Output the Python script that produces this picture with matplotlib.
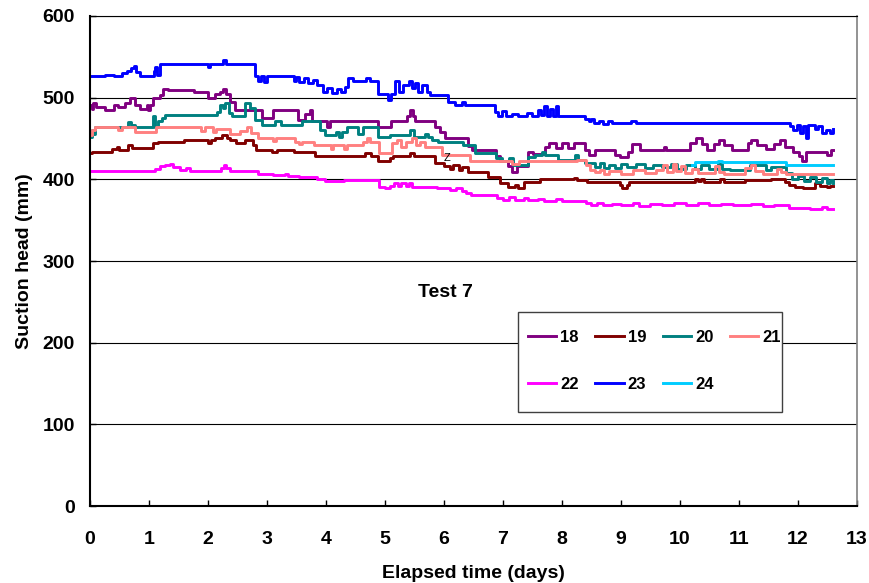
import matplotlib
matplotlib.use("Agg")
import matplotlib.pyplot as plt
from matplotlib.patches import Rectangle

plt.rcParams['font.family'] = ['Liberation Sans', 'DejaVu Sans']

# sensor 18
t18 = [0, 0.03, 0.06, 0.1, 0.25, 0.4, 0.48, 0.59, 0.68, 0.76, 0.85, 0.96, 0.99, 1.02, 1.07, 1.18, 1.24, 1.33, 1.76, 2.0, 2.12,
       2.2, 2.26, 2.31, 2.37, 2.46, 2.91, 3.11, 3.53, 3.64, 3.73, 3.76, 4.01, 4.07,
       4.89, 5.1, 5.38, 5.43, 5.48, 5.51, 5.85, 5.94, 6.02, 6.4, 6.48,
       6.89, 6.95, 7.09, 7.15, 7.23, 7.43, 7.51, 7.72, 7.78, 7.9, 8.0, 8.1, 8.2, 8.39, 8.45, 8.56,
       8.9, 8.98, 9.12, 9.18, 9.32, 9.73, 9.77, 10.17, 10.28, 10.38, 10.45, 10.58, 10.66, 10.75, 10.88,
       11.15, 11.2, 11.3, 11.45, 11.6, 11.7, 11.78, 11.92, 12.02, 12.07, 12.14, 12.5, 12.56, 12.6]
v18 = [491, 486, 493, 489, 485, 491, 489, 493, 499, 491, 486, 491, 485, 491, 499, 503, 511, 509, 507, 499, 505,
       507, 511, 505, 495, 485, 475, 485, 473, 480, 485, 471, 464, 471,
       464, 471, 478, 485, 478, 471, 464, 458, 450, 441, 436,
       428, 422, 416, 409, 416, 433, 431, 440, 444, 438, 444, 438, 444, 436, 430, 436,
       430, 427, 433, 443, 436, 440, 436, 444, 450, 443, 436, 443, 448, 442, 436,
       444, 448, 442, 437, 443, 448, 440, 434, 428, 422, 434, 430, 436, 436]

# sensor 19
t19 = [0, 0.03, 0.37, 0.45, 0.5, 0.65, 0.71, 1.07, 1.15, 1.6, 2.0, 2.05,
       2.12, 2.23, 2.32, 2.38, 2.48, 2.62, 2.76, 2.82, 3.08, 3.17, 3.45, 3.81,
       4.66, 4.76, 4.89, 5.08, 5.14, 5.42, 5.49, 5.85, 6.0, 6.1, 6.15, 6.25, 6.3, 6.4,
       6.75, 6.95, 7.09, 7.2, 7.25, 7.35, 7.63, 8.2, 8.26, 8.42,
       8.98, 9.02, 9.1, 9.14, 10.25, 10.3, 10.35, 10.4, 10.68, 10.74,
       11.1, 11.55, 11.78, 11.85, 11.95, 12.09, 12.29, 12.37, 12.5, 12.55, 12.6]
v19 = [432, 434, 437, 439, 436, 442, 438, 444, 446, 448, 445, 448,
       450, 454, 450, 448, 444, 448, 442, 436, 434, 436, 434, 428,
       432, 428, 422, 426, 428, 432, 428, 420, 416, 413, 417, 412, 415, 409,
       403, 395, 390, 393, 389, 397, 400, 402, 399, 397,
       393, 389, 393, 397, 401, 398, 401, 397, 401, 397,
       399, 401, 397, 393, 391, 389, 395, 392, 390, 392, 392]

# sensor 20
t20 = [0, 0.03, 0.06, 0.09, 0.65, 0.7, 0.76, 1.07, 1.11, 1.16, 1.22, 1.27, 2.15,
       2.2, 2.25, 2.29, 2.35, 2.4, 2.63, 2.72, 2.8, 2.91, 3.14, 3.24, 3.6, 3.9, 3.98, 4.17, 4.22, 4.28, 4.35,
       4.55, 4.62, 4.88, 5.08, 5.42, 5.5, 5.68, 5.73, 5.79, 5.9, 6.32, 6.52,
       6.89, 6.98, 7.1, 7.17, 7.43, 7.55, 7.66, 7.72, 7.94, 8.22, 8.28, 8.39, 8.56, 8.65, 8.72,
       8.8, 8.9, 9.0, 9.1, 9.25, 9.4, 9.55, 9.7, 9.85, 9.95, 10.1, 10.25, 10.35, 10.5, 10.65, 10.72,
       10.85, 11.18, 11.45, 11.55, 11.8, 11.9, 12.0, 12.1, 12.2, 12.3, 12.4, 12.5, 12.55, 12.6]
v20 = [452, 460, 455, 464, 470, 466, 464, 477, 464, 471, 475, 479, 482,
       491, 487, 493, 481, 477, 493, 487, 473, 467, 471, 467, 471, 460, 454, 458, 452, 458, 464,
       456, 464, 452, 454, 460, 452, 456, 452, 448, 446, 442, 432,
       426, 422, 426, 418, 427, 430, 434, 430, 424, 430, 424, 420, 415, 420, 414,
       418, 414, 419, 415, 419, 414, 418, 415, 419, 413, 418, 413, 417, 413, 419, 413,
       411, 418, 411, 415, 408, 401, 404, 398, 403, 397, 402, 396, 399, 396]

# sensor 21
t21 = [0, 0.03, 0.09, 0.48, 0.55, 0.76, 1.12, 1.88, 1.95, 2.08, 2.13,
       2.38, 2.55, 2.66, 2.73, 2.84, 3.1, 3.15, 3.47, 3.55, 3.6, 3.8, 4.08, 4.12, 4.3, 4.35,
       4.63, 4.7, 4.75, 4.9, 5.12, 5.2, 5.28, 5.35, 5.45, 5.52, 5.6, 5.68, 5.76, 5.96, 6.44,
       7.15, 7.28, 8.25, 8.4, 8.47, 8.56, 8.65, 8.72,
       8.8, 9.0, 9.2, 9.4, 9.6, 9.72, 9.78, 9.88, 9.94, 10.02, 10.08, 10.2, 10.3, 10.6, 10.66, 10.75,
       11.1, 11.2, 11.28, 11.4, 11.65, 11.72, 11.8, 12.6]
v21 = [454, 460, 464, 460, 464, 458, 464, 459, 464, 458, 462,
       456, 459, 464, 457, 450, 447, 450, 446, 443, 446, 442, 437, 442, 437, 442,
       446, 450, 446, 432, 444, 448, 440, 446, 450, 442, 446, 439, 440, 430, 422,
       419, 422, 424, 418, 412, 409, 412, 407,
       410, 407, 411, 408, 411, 417, 409, 419, 410, 416, 408, 413, 408, 416, 409, 407,
       414, 418, 410, 407, 413, 409, 407, 407]

# sensor 22
t22 = [0, 1.1, 1.18, 1.27, 1.35, 1.4, 1.52, 1.62, 1.7, 2.22, 2.27, 2.3, 2.37, 2.85, 3.1, 3.3, 3.35, 3.55, 3.85, 3.98,
       4.3, 4.9, 5.0, 5.08, 5.15, 5.22, 5.28, 5.35, 5.4, 5.45, 5.88, 6.1, 6.2, 6.3, 6.38, 6.45,
       6.9, 7.0, 7.1, 7.2, 7.35, 7.42, 7.6, 7.7, 7.9, 8.0, 8.4, 8.5,
       8.6, 8.7, 8.85, 9.0, 9.2, 9.3, 9.5, 9.7, 9.9, 10.1, 10.3, 10.5, 10.7,
       10.9, 11.2, 11.4, 11.6, 11.85, 12.2, 12.4, 12.5, 12.6]
v22 = [410, 413, 416, 418, 419, 415, 412, 414, 410, 414, 418, 414, 410, 407, 405, 407, 404, 403, 401, 398,
       399, 391, 389, 392, 395, 392, 395, 392, 395, 391, 389, 387, 389, 386, 383, 381,
       377, 375, 378, 375, 377, 375, 376, 374, 376, 373, 371, 369,
       371, 368, 370, 368, 371, 367, 370, 368, 371, 369, 371, 368, 370,
       368, 370, 367, 369, 365, 364, 366, 364, 364]

# sensor 23
t23 = [0, 0.25, 0.4, 0.55, 0.62, 0.7, 0.74, 0.78, 0.85, 1.08, 1.11, 1.14, 1.19, 2.0, 2.03, 2.25, 2.3,
       2.8, 2.85, 2.9, 2.95, 3.0, 3.45, 3.5, 3.55, 3.62, 3.7, 3.78, 3.85, 3.95, 4.02, 4.1, 4.18, 4.25, 4.32, 4.38,
       4.45, 4.68, 4.74, 4.88, 5.06, 5.11, 5.17, 5.23, 5.31, 5.4, 5.45, 5.51, 5.56, 5.62, 5.71, 5.76,
       6.07, 6.19, 6.3, 6.36, 6.86, 6.92, 6.98, 7.05, 7.15, 7.25, 7.4, 7.5, 7.6, 7.65, 7.7, 7.74, 7.8, 7.85,
       7.9, 7.93, 8.39, 8.45, 8.5, 8.55, 8.62, 8.7, 8.78, 8.85, 9.17, 9.25,
       11.86, 11.92, 11.98, 12.03, 12.09, 12.14, 12.17, 12.23, 12.29, 12.34, 12.4, 12.48, 12.54, 12.6]
v23 = [526, 528, 527, 530, 533, 536, 539, 531, 527, 533, 537, 528, 541, 538, 541, 546, 541,
       526, 520, 526, 519, 526, 521, 525, 519, 524, 518, 522, 516, 507, 512, 506, 510, 507, 513, 524,
       521, 524, 521, 505, 497, 505, 520, 507, 515, 520, 512, 518, 507, 515, 507, 503,
       495, 491, 495, 491, 482, 478, 484, 478, 480, 477, 481, 478, 485, 479, 490, 478, 486, 478,
       490, 477, 474, 471, 474, 469, 472, 468, 472, 469, 472, 469,
       465, 460, 467, 457, 465, 450, 466, 467, 462, 465, 457, 461, 457, 462]

# sensor 24
t24 = [10.2, 10.25, 10.65, 10.72, 11.8, 12.6]
v24 = [417, 421, 423, 421, 417, 417]

series = [('18', t18, v18, '#800080'), ('19', t19, v19, '#800000'), ('20', t20, v20, '#008080'),
          ('21', t21, v21, '#FF8080'), ('22', t22, v22, '#FF00FF'), ('23', t23, v23, '#0000FF'),
          ('24', t24, v24, '#00CCFF')]

fig = plt.figure(figsize=(8.7, 5.83), dpi=100)
ax = fig.add_axes([0.1034, 0.132, 0.8816, 0.8406])

lines = {}
for name, t, v, c in series:
    ln, = ax.plot(t, v, drawstyle='steps-post', color=c, lw=2.1, label=name)
    lines[name] = ln

ax.set_xlim(0, 13)
ax.set_ylim(0, 600)
ax.set_xticks(range(0, 14))
ax.set_yticks(range(0, 601, 100))
ax.yaxis.grid(True, color='black', lw=0.8)
ax.set_axisbelow(True)
for sp in ['left', 'bottom']:
    ax.spines[sp].set_linewidth(1.5)
ax.spines['top'].set_linewidth(0.8)
ax.spines['right'].set_color('#808080')
ax.spines['right'].set_linewidth(1.2)
ax.tick_params(axis='both', labelsize=14, direction='in', length=4, width=1)
for lab in ax.get_xticklabels() + ax.get_yticklabels():
    lab.set_fontweight('bold')
ax.tick_params(axis='x', pad=18)
ax.tick_params(axis='y', pad=11)

ax.set_xlabel('Elapsed time (days)', fontsize=14, fontweight='bold', labelpad=12)
ax.set_ylabel('Suction head (mm)', fontsize=14, fontweight='bold', labelpad=7)

ax.text(6.03, 261, 'Test 7', fontsize=14, fontweight='bold', ha='center', va='center')
ax.text(6.05, 426, 'Z', fontsize=8, ha='center', va='center')

# legend frame drawn separately so the entries can sit where they do in the original
ax.add_patch(Rectangle((0.558, 0.192), 0.344, 0.204, transform=ax.transAxes,
                       facecolor='white', edgecolor='#404040', lw=1.0, zorder=4))
order = ['18', '22', '19', '23', '20', '24', '21']
leg = ax.legend([lines[k] for k in order], order, ncol=4, loc='upper left',
                bbox_to_anchor=(0.571, 0.360), borderpad=0, borderaxespad=0,
                prop={'weight': 'bold', 'size': 12}, handlelength=1.7, handletextpad=0.25,
                labelspacing=1.92, columnspacing=0.98, frameon=False)
leg.set_zorder(5)

fig.savefig('out.png', dpi=100)
